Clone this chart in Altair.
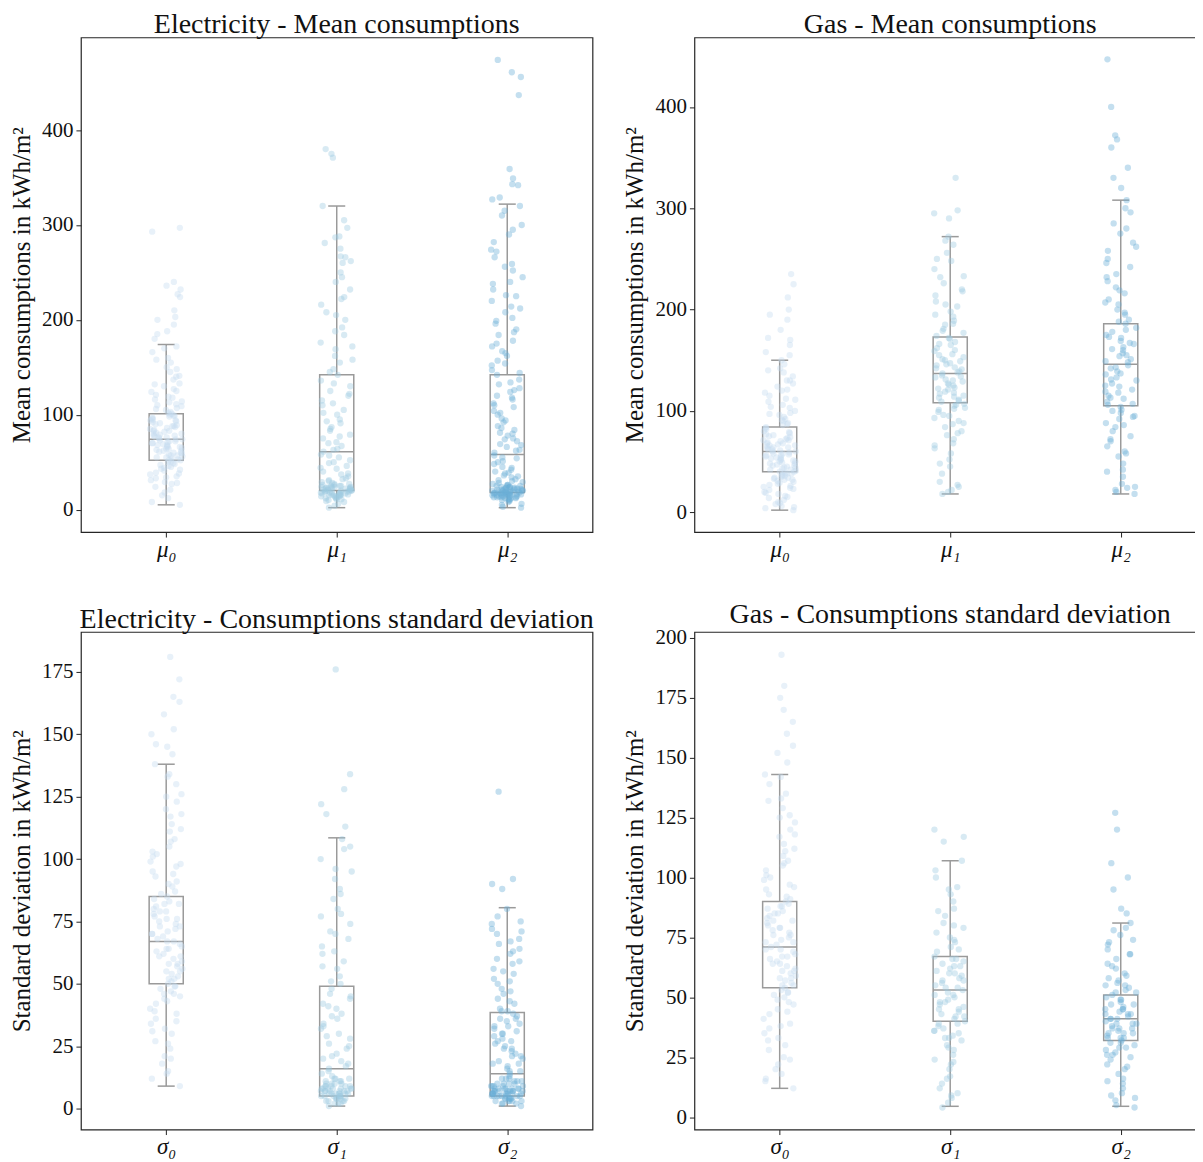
import altair as alt
import pandas as pd

FONT = "Liberation Serif"
COLORS = ["#c6dbef", "#9ecae1", "#6baed6"]
BOXC = "#9a9a9a"

MU_LABELS = ["μ₀", "μ₁", "μ₂"]
SIGMA_LABELS = ["σ₀", "σ₁", "σ₂"]

# ---------------- Electricity - mean consumptions ----------------
elec_mu0 = [5, 8, 12, 15, 18, 21, 24, 27, 29, 31, 33, 35, 37, 39, 41, 42, 44, 45, 47, 48,
            50, 51, 52, 53, 54, 55, 56, 57, 58, 59, 60, 61, 62, 63, 64, 65, 66, 67, 68, 69,
            70, 71, 72, 73, 74, 75, 76, 77, 78, 79, 80, 81, 82, 83, 84, 86, 87, 88, 89, 90,
            92, 93, 94, 95, 97, 98, 99, 100, 101, 103, 105, 107, 109, 111, 113, 116, 118, 121,
            124, 127, 130, 133, 137, 141, 145, 150, 155, 160, 166, 172, 180, 188, 195, 203,
            210, 224, 227, 232, 236, 240, 293, 297,
            28, 34, 38, 43, 46, 49, 52, 55, 57, 60, 62, 64, 66, 68, 70, 72, 74, 76, 78, 80,
            83, 85, 88, 91, 94, 96, 99, 102, 106, 110, 114, 119, 125, 132, 140, 148, 158, 170,
            185, 200]
elec_mu1 = [2, 4, 6, 8, 9, 10, 11, 12, 13, 14, 14, 15, 15, 16, 16, 17, 17, 18, 18, 19, 19,
            20, 20, 21, 21, 22, 22, 23, 23, 24, 24, 25, 25, 26, 27, 28, 29, 30, 31, 33, 35,
            37, 40, 43, 46, 49, 52, 55, 58, 61, 64, 67, 71, 75, 79, 83, 87, 91, 95, 100, 105,
            110, 115, 120, 125, 130, 136, 142, 148, 155, 162, 169, 176, 184, 192, 200, 208,
            216, 224, 232, 240, 250, 260, 266, 267, 275, 281, 287, 288, 297, 305, 320, 371,
            375, 380,
            11, 12, 13, 15, 16, 17, 18, 19, 20, 21, 22, 23, 24, 25, 26, 27, 14, 16, 18, 20,
            22, 24, 19, 21, 32, 38, 44, 50, 57, 63, 70, 77, 85, 93, 102, 112, 122, 133, 145,
            158, 172, 188, 205, 222, 245, 262]
elec_mu2 = [2, 3, 5, 6, 8, 9, 10, 11, 12, 12, 13, 13, 14, 14, 15, 15, 15, 16, 16, 16, 17,
            17, 17, 18, 18, 18, 19, 19, 19, 20, 20, 20, 21, 21, 21, 22, 22, 23, 23, 24, 24,
            25, 25, 26, 27, 28, 29, 30, 32, 34, 36, 38, 40, 42, 45, 48, 51, 54, 57, 60, 63,
            66, 69, 72, 75, 78, 81, 84, 88, 92, 96, 100, 104, 108, 112, 116, 120, 124, 128,
            132, 137, 142, 147, 152, 157, 162, 167, 172, 178, 184, 190, 196, 202, 208, 214,
            220, 226, 232, 238, 245, 252, 259, 266, 274, 282, 290, 300, 310, 320, 327, 329,
            342, 343, 349, 359, 437, 456, 461, 474,
            10, 11, 12, 13, 14, 15, 16, 17, 18, 19, 20, 21, 22, 23, 24, 25, 26, 14, 15, 16,
            17, 18, 19, 20, 21, 22, 13, 17, 31, 35, 39, 44, 50, 55, 62, 68, 74, 80, 86, 94,
            102, 110, 118, 126, 134, 144, 154, 165, 175, 187, 199, 212, 225, 240, 256, 272,
            295, 315]

# ---------------- Gas - mean consumptions ----------------
gas_mu0 = [2, 4, 6, 8, 10, 12, 14, 16, 18, 20, 22, 24, 25, 27, 28, 30, 31, 32, 33, 34, 35,
           36, 37, 38, 39, 40, 41, 42, 43, 44, 45, 46, 47, 48, 49, 50, 51, 52, 53, 54, 55,
           56, 57, 58, 59, 60, 61, 62, 63, 64, 65, 66, 67, 68, 69, 70, 71, 72, 74, 75, 77,
           78, 80, 82, 84, 86, 88, 90, 92, 94, 96, 98, 100, 103, 106, 109, 112, 115, 118,
           121, 124, 127, 130, 134, 138, 142, 146, 150, 158, 165, 172, 180, 190, 200, 212,
           225, 235,
           5, 9, 15, 19, 23, 26, 29, 32, 34, 36, 38, 40, 42, 44, 46, 48, 50, 52, 54, 56, 58,
           60, 62, 64, 66, 68, 71, 73, 76, 79, 83, 87, 91, 97, 104, 111, 120, 130, 140, 155,
           170, 195]
gas_mu1 = [18, 20, 22, 27, 30, 38, 45, 52, 58, 63, 68, 72, 76, 80, 84, 87, 90, 93, 96, 99,
           101, 103, 105, 107, 109, 111, 113, 115, 117, 119, 121, 123, 125, 127, 129, 131,
           133, 135, 137, 139, 141, 143, 145, 147, 149, 151, 153, 156, 159, 162, 165, 168,
           171, 174, 177, 181, 185, 189, 193, 198, 203, 208, 214, 220, 226, 233, 240, 248,
           256, 264, 272, 290, 295, 298, 330,
           25, 48, 66, 78, 88, 95, 102, 106, 110, 114, 118, 122, 126, 130, 134, 138, 142,
           146, 150, 155, 160, 166, 172, 179, 186, 195, 205, 218, 232, 250, 268]
gas_mu2 = [18, 20, 22, 25, 28, 35, 42, 48, 55, 60, 65, 70, 75, 80, 84, 88, 92, 95, 98, 101,
           104, 106, 109, 112, 115, 118, 121, 124, 127, 130, 133, 136, 139, 142, 145, 148,
           151, 154, 157, 160, 163, 166, 169, 172, 175, 178, 182, 186, 190, 195, 200, 205,
           210, 216, 222, 228, 235, 242, 250, 258, 266, 275, 285, 296, 308, 320, 330, 340,
           360, 368, 372, 400, 447,
           24, 40, 58, 72, 86, 94, 100, 107, 113, 119, 125, 131, 137, 143, 149, 155, 161,
           167, 173, 180, 188, 197, 207, 219, 232, 246, 262, 280, 300]

# ---------------- Electricity - standard deviation ----------------
elec_s0 = [9, 12, 15, 18, 21, 24, 27, 30, 32, 34, 36, 38, 40, 42, 44, 45, 46, 47, 48, 49,
           50, 51, 52, 53, 54, 55, 56, 57, 58, 59, 60, 61, 62, 63, 64, 65, 66, 67, 68, 69,
           70, 71, 72, 73, 74, 75, 76, 77, 78, 79, 80, 81, 82, 83, 84, 85, 87, 89, 91, 93,
           95, 97, 99, 101, 103, 105, 108, 111, 114, 117, 120, 123, 126, 130, 134, 138, 142,
           146, 150, 152, 158, 163, 165, 172, 181,
           14, 20, 26, 31, 35, 39, 43, 46, 49, 52, 55, 58, 61, 64, 67, 70, 73, 76, 79, 82,
           86, 90, 94, 98, 102, 107, 112, 118, 125, 133, 145]
elec_s1 = [1, 2, 2, 3, 3, 3, 4, 4, 4, 5, 5, 5, 5, 6, 6, 6, 6, 7, 7, 7, 7, 8, 8, 8, 8, 9, 9,
           9, 10, 10, 10, 11, 11, 12, 12, 13, 14, 15, 16, 17, 18, 19, 20, 22, 24, 26, 28, 30,
           32, 34, 36, 38, 40, 42, 44, 46, 48, 50, 53, 56, 59, 62, 65, 68, 71, 74, 77, 80, 84,
           88, 92, 96, 100, 104, 108, 113, 118, 122, 128, 134, 176,
           2, 3, 4, 4, 5, 5, 6, 6, 7, 7, 8, 8, 9, 9, 10, 11, 12, 6, 7, 8, 21, 25, 29, 33, 37,
           41, 45, 51, 57, 63, 70, 78, 86, 95, 105]
elec_s2 = [1, 2, 2, 3, 3, 3, 4, 4, 4, 4, 5, 5, 5, 5, 5, 6, 6, 6, 6, 6, 7, 7, 7, 7, 7, 8, 8,
           8, 8, 9, 9, 9, 10, 10, 10, 11, 11, 12, 12, 13, 14, 15, 16, 17, 18, 19, 20, 21, 22,
           23, 24, 25, 26, 27, 28, 29, 30, 31, 32, 33, 34, 35, 36, 37, 38, 39, 40, 42, 44, 46,
           48, 50, 52, 54, 56, 58, 60, 62, 64, 66, 68, 70, 72, 74, 77, 80, 88, 90, 92, 127,
           2, 3, 3, 4, 4, 5, 5, 6, 6, 7, 7, 8, 8, 9, 9, 10, 11, 12, 5, 6, 7, 8, 6, 7, 15, 18,
           21, 24, 27, 30, 33, 36, 39, 43, 47, 51, 55, 59, 63, 67, 71, 75]

# ---------------- Gas - standard deviation ----------------
gas_s0 = [12, 15, 18, 20, 22, 25, 28, 30, 33, 35, 37, 39, 41, 43, 45, 47, 49, 50, 51, 52, 53,
          54, 55, 56, 57, 58, 59, 60, 61, 62, 63, 64, 65, 66, 67, 68, 69, 70, 71, 72, 73, 74,
          75, 76, 77, 78, 79, 80, 81, 82, 83, 84, 85, 86, 87, 88, 89, 90, 91, 93, 95, 97, 99,
          101, 103, 105, 107, 109, 111, 114, 117, 120, 123, 126, 129, 132, 135, 139, 143, 148,
          152, 155, 160, 165, 170, 175, 180, 193,
          16, 24, 32, 38, 44, 48, 52, 55, 58, 61, 64, 67, 70, 73, 76, 79, 82, 85, 88, 92, 96,
          100, 106, 112, 118, 125, 133, 142]
gas_s1 = [4, 6, 8, 10, 12, 14, 17, 20, 22, 24, 26, 28, 30, 32, 33, 34, 35, 36, 37, 38, 39, 40,
          41, 42, 43, 44, 45, 46, 47, 48, 49, 50, 51, 52, 53, 54, 55, 56, 57, 58, 59, 60, 61,
          62, 63, 64, 65, 66, 67, 69, 71, 73, 75, 77, 79, 81, 84, 87, 90, 93, 96, 100, 103,
          107, 115, 117, 120,
          9, 16, 23, 29, 33, 36, 39, 42, 45, 48, 51, 54, 57, 60, 63, 66, 70, 74, 80, 86, 95]
gas_s2 = [4, 5, 7, 8, 10, 12, 14, 16, 18, 20, 22, 24, 25, 26, 27, 28, 29, 30, 31, 32, 33, 33,
          34, 35, 35, 36, 37, 37, 38, 39, 39, 40, 41, 41, 42, 43, 43, 44, 45, 45, 46, 47, 48,
          49, 50, 51, 52, 53, 54, 55, 56, 57, 58, 60, 62, 64, 66, 68, 70, 72, 74, 76, 78, 81,
          85, 87, 95, 100, 106, 120, 127,
          9, 15, 21, 26, 29, 31, 33, 35, 37, 39, 41, 43, 45, 47, 49, 52, 55, 59, 63, 68, 73,
          79]

# Box statistics
elec_mean_q1 = [52, 20, 18]
elec_mean_med = [74, 61, 58]
elec_mean_q3 = [101, 142, 142]
elec_mean_wlo = [5, 2, 2]
elec_mean_whi = [174, 320, 322]

gas_mean_q1 = [40, 108, 105]
gas_mean_med = [60, 137, 146]
gas_mean_q3 = [84, 173, 186]
gas_mean_wlo = [2, 18, 18]
gas_mean_whi = [150, 272, 308]

elec_std_q1 = [50, 5, 5]
elec_std_med = [67, 16, 14]
elec_std_q3 = [85, 49, 38.5]
elec_std_wlo = [9, 1, 1]
elec_std_whi = [138, 108.5, 80.5]

gas_std_q1 = [54, 40, 32]
gas_std_med = [71, 53, 41]
gas_std_q3 = [90, 67, 51]
gas_std_wlo = [12, 4.5, 4.5]
gas_std_whi = [143, 107, 81]

PANEL_W = 512
TOP_H = 495
BOTTOM_H = 498


def panel(title, ytitle, series, q1, med, q3, wlo, whi, labels, ydom, yticks, height):
    rows = []
    for c, vals in enumerate(series):
        for v in vals:
            rows.append({"cat": c, "val": v})
    pts = pd.DataFrame(rows)
    st = pd.DataFrame({"cat": [0, 1, 2], "q1": q1, "med": med, "q3": q3, "wlo": wlo, "whi": whi})

    xscale = alt.Scale(domain=[-0.5, 2.5], nice=False, zero=False)
    yscale = alt.Scale(domain=ydom, nice=False, zero=False)
    labexpr = "[" + ",".join("'%s'" % s for s in labels) + "][datum.value]"
    xaxis = alt.Axis(values=[0, 1, 2], labelExpr=labexpr, title=None, grid=False,
                     domain=False, labelFontStyle="italic", labelFontSize=23, labelPadding=1)
    yaxis = alt.Axis(values=yticks, title=ytitle, grid=False, domain=False)

    base = alt.Chart(st).transform_calculate(
        lo="datum.cat - 0.1", hi="datum.cat + 0.1",
        clo="datum.cat - 0.05", chi="datum.cat + 0.05")
    box = base.mark_rect(fill="white", fillOpacity=0, stroke=BOXC, strokeWidth=1.5).encode(
        x=alt.X("lo:Q", scale=xscale, axis=xaxis), x2="hi:Q",
        y=alt.Y("q1:Q", scale=yscale, axis=yaxis), y2="q3:Q")
    wl = base.mark_rule(color=BOXC, strokeWidth=1.5).encode(x="cat:Q", y="wlo:Q", y2="q1:Q")
    wh = base.mark_rule(color=BOXC, strokeWidth=1.5).encode(x="cat:Q", y="q3:Q", y2="whi:Q")
    caplo = base.mark_rule(color=BOXC, strokeWidth=1.5).encode(x="clo:Q", x2="chi:Q", y="wlo:Q")
    caphi = base.mark_rule(color=BOXC, strokeWidth=1.5).encode(x="clo:Q", x2="chi:Q", y="whi:Q")
    medr = base.mark_rule(color=BOXC, strokeWidth=1.5).encode(x="lo:Q", x2="hi:Q", y="med:Q")

    # strip-plot jitter: deterministic hash of the row number (horizontal position only)
    points = alt.Chart(pts).transform_window(
        rn="row_number()", groupby=["cat"]
    ).transform_calculate(
        xj="datum.cat + ((abs(sin(datum.rn * 12.9898 + datum.cat * 78.233) * 43758.5453) % 1) - 0.5) * 0.19"
    ).mark_circle(size=40, opacity=0.4).encode(
        x="xj:Q", y="val:Q",
        color=alt.Color("cat:N", scale=alt.Scale(domain=[0, 1, 2], range=COLORS), legend=None))

    return alt.layer(box, wl, wh, caplo, caphi, medr, points).properties(
        width=PANEL_W, height=height, title=title)


p1 = panel("Electricity - Mean consumptions", "Mean consumptions in kWh/m²",
           [elec_mu0, elec_mu1, elec_mu2], elec_mean_q1, elec_mean_med, elec_mean_q3,
           elec_mean_wlo, elec_mean_whi, MU_LABELS, [-23.7, 497.7],
           [0, 100, 200, 300, 400], TOP_H)
p2 = panel("Gas - Mean consumptions", "Mean consumptions in kWh/m²",
           [gas_mu0, gas_mu1, gas_mu2], gas_mean_q1, gas_mean_med, gas_mean_q3,
           gas_mean_wlo, gas_mean_whi, MU_LABELS, [-19.6, 468.6],
           [0, 100, 200, 300, 400], TOP_H)
p3 = panel("Electricity - Consumptions standard deviation", "Standard deviation in kWh/m²",
           [elec_s0, elec_s1, elec_s2], elec_std_q1, elec_std_med, elec_std_q3,
           elec_std_wlo, elec_std_whi, SIGMA_LABELS, [-8.4, 191],
           [0, 25, 50, 75, 100, 125, 150, 175], BOTTOM_H)
p4 = panel("Gas - Consumptions standard deviation", "Standard deviation in kWh/m²",
           [gas_s0, gas_s1, gas_s2], gas_std_q1, gas_std_med, gas_std_q3,
           gas_std_wlo, gas_std_whi, SIGMA_LABELS, [-5.2, 202.5],
           [0, 25, 50, 75, 100, 125, 150, 175, 200], BOTTOM_H)

chart = alt.concat(
    p1, p2, p3, p4, columns=2, spacing={"row": 100, "column": 102}, bounds="flush"
).properties(
    padding={"top": 2, "left": 0, "right": -12, "bottom": 0}
).configure_view(
    stroke="#262626", strokeWidth=1.2
).configure_axis(
    labelFont=FONT, titleFont=FONT, labelFontSize=21, titleFontSize=25,
    labelColor="#111111", titleColor="#111111", tickColor="#222222",
    tickSize=5, tickWidth=1, titleFontWeight="normal", labelPadding=3, titlePadding=7
).configure_title(
    font=FONT, fontSize=28, fontWeight="normal", color="#111111",
    anchor="middle", frame="group", offset=-2
)

chart.save("out.html", embed_options={"renderer": "svg", "actions": False})
